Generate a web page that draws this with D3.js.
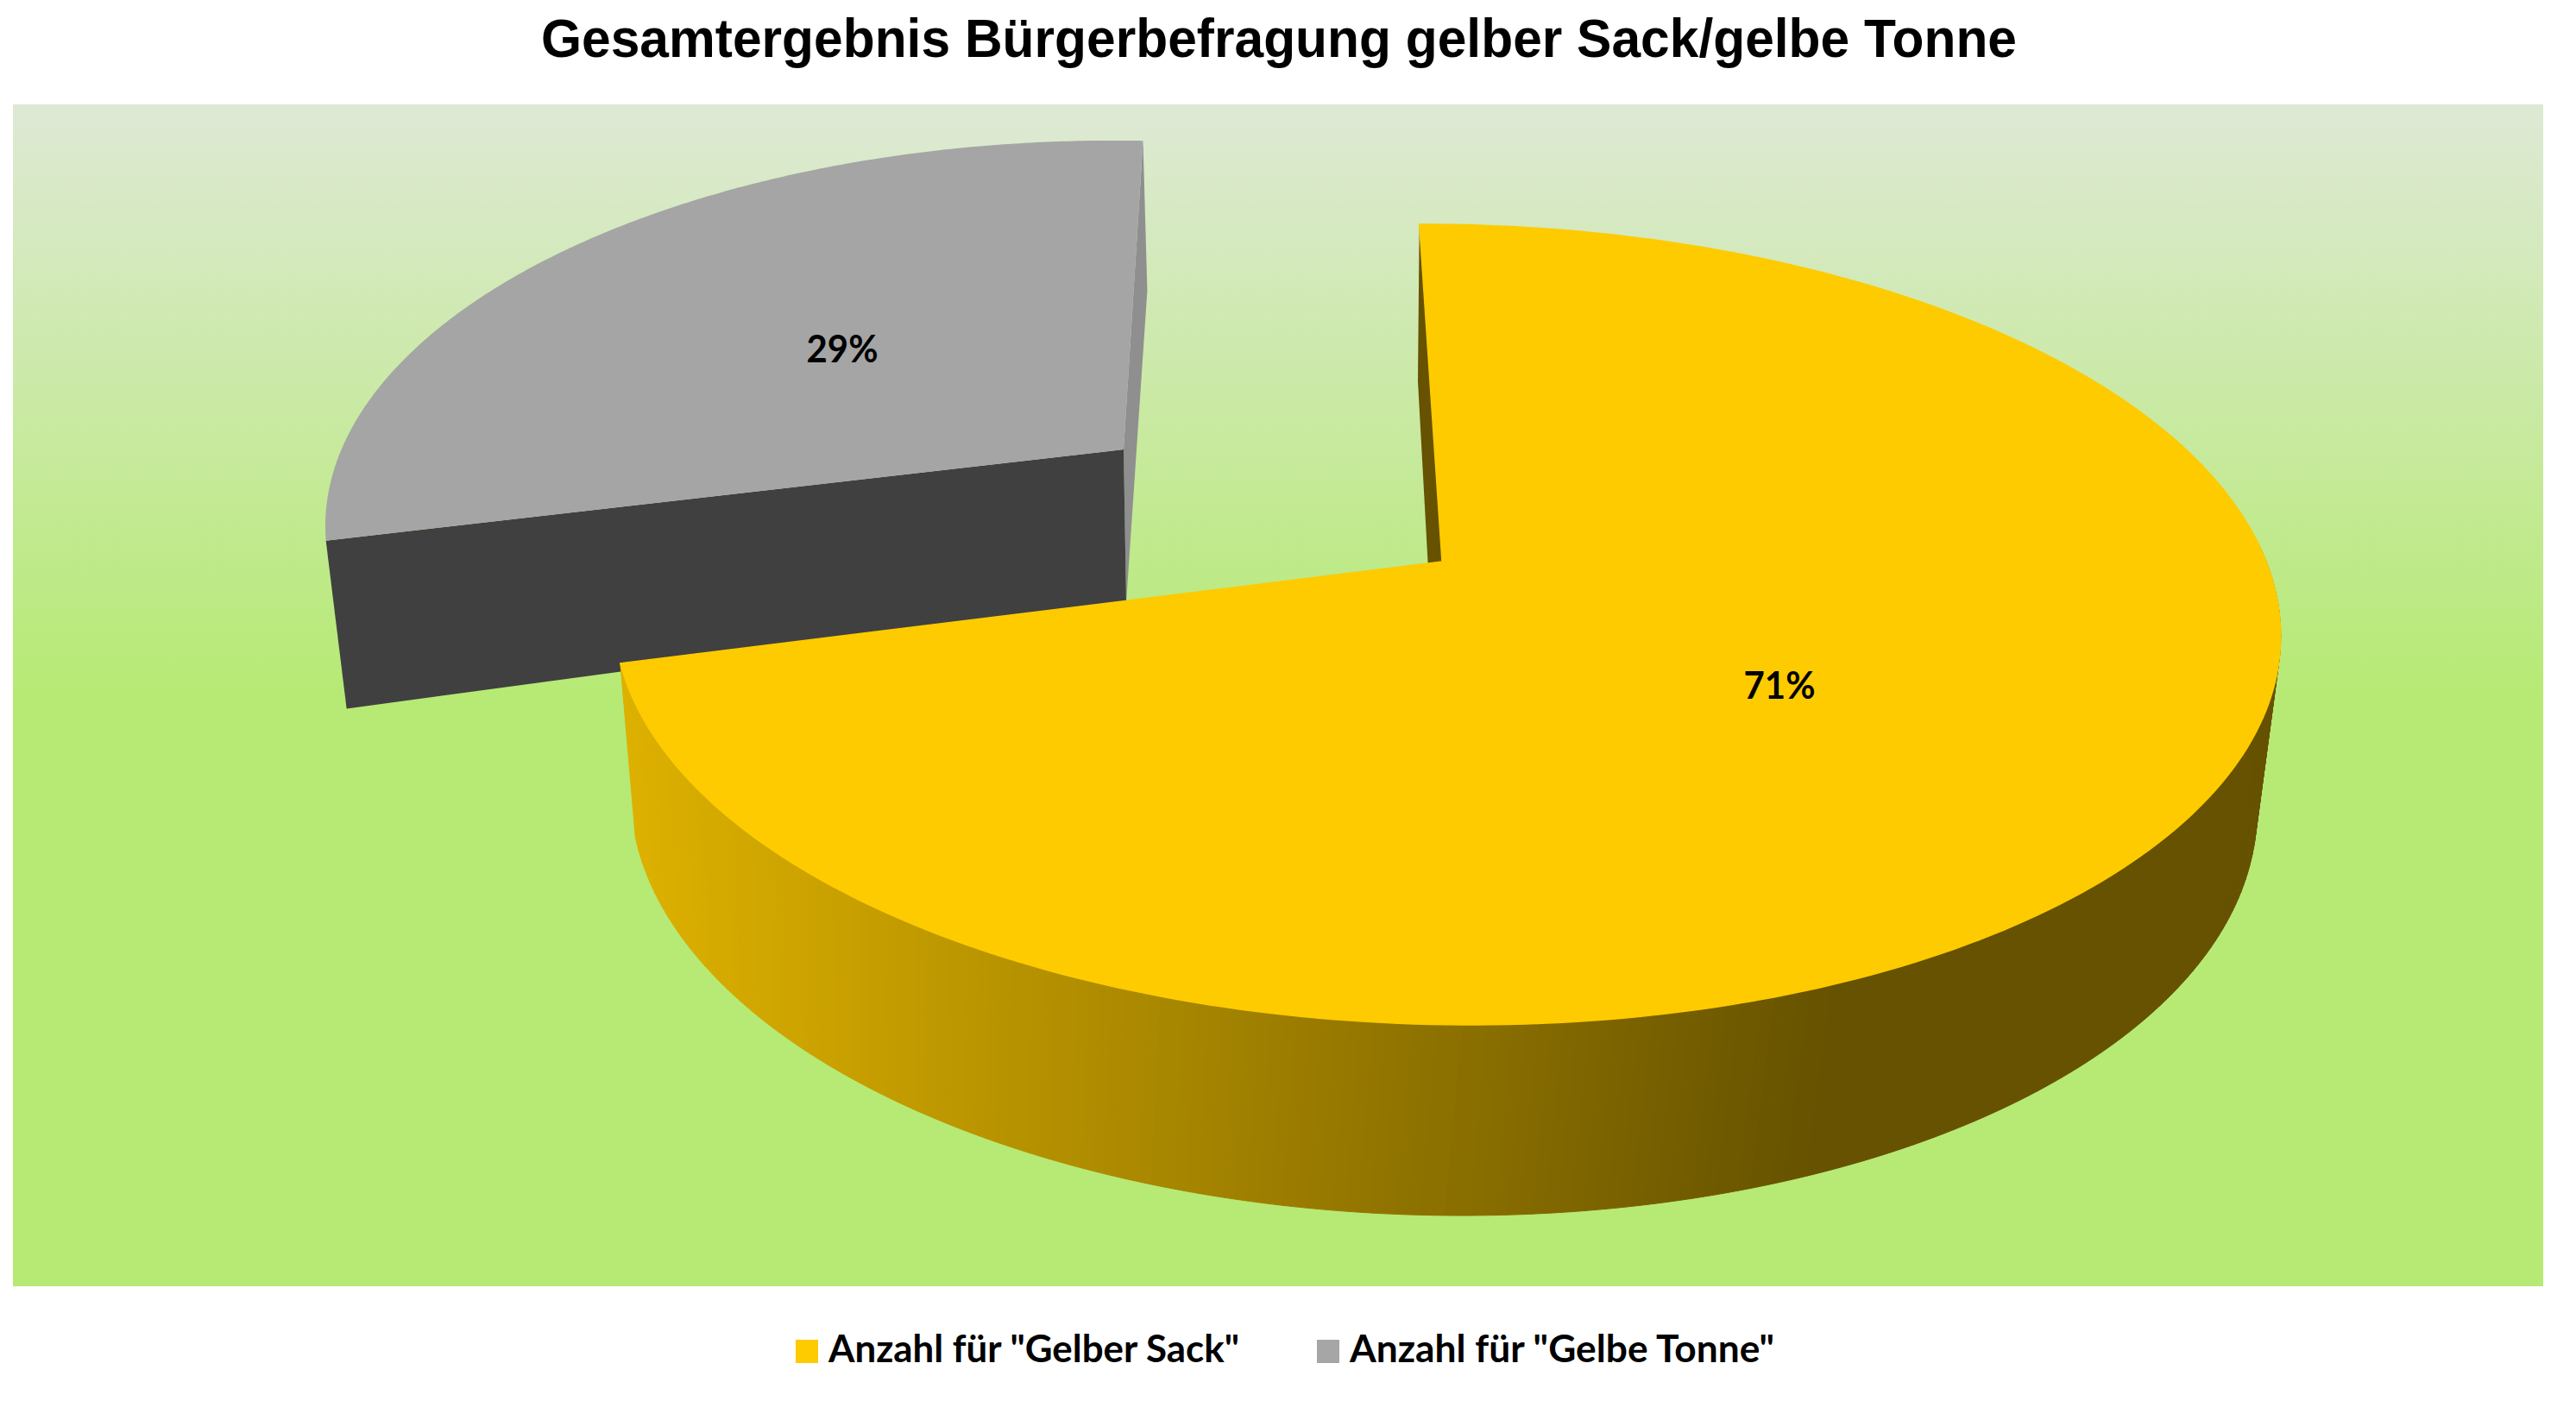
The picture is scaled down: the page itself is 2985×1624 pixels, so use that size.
<!DOCTYPE html>
<html><head><meta charset="utf-8">
<script src="https://cdn.jsdelivr.net/npm/d3@7/dist/d3.min.js"></script>
<style>html,body{margin:0;padding:0;background:#fff}svg{display:block}</style>
</head><body><svg id="c" width="2985" height="1624" viewBox="0 0 2985 1624"></svg>
<script>
const titleText = 'Gesamtergebnis Bürgerbefragung gelber Sack/gelbe Tonne';
const categories = ['Anzahl für "Gelber Sack"', 'Anzahl für "Gelbe Tonne"'];
const shares = [71, 29];
const colors = ['#fdcb00', '#a5a5a5'];

// perspective frames of each slice: top and bottom rim as sheared ellipses
const yellowFrame = {
  top: {cx:1677, cy:724, rx:965, ry:464, sx:38, sy:-5},
  bottom: {cx:1673, cy:929, rx:942, ry:480, sx:21, sy:0},
  apex: [1671,651], foot: [1655,660], backFoot: [1643,442],
  tRange: [-89.66, 175.07], label: [2062,810], labelW: 83
};
const grayFrame = {
  top: {cx:1270, cy:600, rx:893, ry:437, sx:0, sy:-10},
  bottom: {cx:1276, cy:794, rx:875, ry:457, sx:0, sy:-10},
  apex: [1302,521], foot: [1305,699],
  tRange: [177.8, 273.5], label: [976,420], labelW: 83
};

const svg = d3.select('#c');
const defs = svg.append('defs');
const grad = defs.append('linearGradient').attr('id','bg').attr('x1',0).attr('y1',0).attr('x2',0).attr('y2',1);
[[0,'#dee9d5'],[0.5,'#b6ea74'],[1,'#b6ea74']].forEach(s=>grad.append('stop').attr('offset',s[0]).attr('stop-color',s[1]));
svg.append('rect').attr('x',15).attr('y',121).attr('width',2932).attr('height',1370).attr('fill','url(#bg)');

const pieLayout = d3.pie().sort(null).value(d=>d);
const arcs = pieLayout(shares);
const rad = d=>d*Math.PI/180;
const rim = (e,t)=>[e.cx+e.rx*Math.cos(t)+e.sx*Math.sin(t), e.cy+e.ry*Math.sin(t)+e.sy*Math.cos(t)];
const line = d3.line();
const tScale = (a,f)=>d3.scaleLinear().domain([a.startAngle,a.endAngle]).range(f.tRange.map(rad));
const samples = (a,n)=>d3.range(n+1).map(i=>a.startAngle+(a.endAngle-a.startAngle)*i/n);
const face = (a,f)=>{
  const ts = tScale(a,f);
  return line(samples(a,240).map(v=>rim(f.top,ts(v))).concat([f.apex]))+'Z';
};

// gray slice
const g = svg.append('g');
{
  const a = arcs[1], f = grayFrame, ts = tScale(a,f);
  const s = a.startAngle, e = a.endAngle;
  g.append('path').attr('d',line([rim(f.top,ts(e)),rim(f.bottom,ts(e)),f.foot,f.apex])+'Z').attr('fill','#8f8f8f');
  g.append('path').attr('d',line([f.apex,rim(f.top,ts(s)),rim(f.bottom,ts(s)),f.foot])+'Z').attr('fill','#404040');
  g.append('path').attr('d',face(a,f)).attr('fill',colors[1]);
}
// yellow slice
{
  const a = arcs[0], f = yellowFrame, ts = tScale(a,f);
  const shade = d3.scaleLinear().domain([718,2095]).range(['#dfb200','#665200']).clamp(true);
  const vals = samples(a,300).filter(v=>ts(v)>rad(-12));
  g.selectAll('path.strip').data(d3.pairs(vals)).join('path').attr('class','strip')
    .attr('d',([u,v])=>line([rim(f.top,ts(u)),rim(f.top,ts(v)),rim(f.bottom,ts(v)),rim(f.bottom,ts(u))])+'Z')
    .attr('fill',([u,v])=>shade(rim(f.bottom,ts((u+v)/2))[0]))
    .attr('stroke',([u,v])=>shade(rim(f.bottom,ts((u+v)/2))[0])).attr('stroke-width',1);
  g.append('path').attr('d',line([rim(f.top,ts(a.startAngle)),f.backFoot,f.foot,f.apex])+'Z').attr('fill','#665200');
  g.append('path').attr('d',face(a,f)).attr('fill',colors[0]).attr('stroke',colors[0]).attr('stroke-width',1.5);
}

const total = d3.sum(shares);
const pct = d3.format('.0%');
[yellowFrame,grayFrame].forEach((f,i)=>{
  svg.append('text').attr('x',f.label[0]-f.labelW/2).attr('y',f.label[1])
    .attr('font-family','Lato').attr('font-weight',700).attr('font-size',44).attr('fill','#000')
    .attr('textLength',f.labelW).attr('lengthAdjust','spacingAndGlyphs')
    .text(pct(shares[i]/total));
});

svg.append('text').attr('x',627).attr('y',66).attr('font-family','Liberation Sans').attr('font-weight',700)
  .attr('font-size',63).attr('textLength',1710).attr('lengthAdjust','spacingAndGlyphs').attr('fill','#000').text(titleText);

const legendX = d3.scaleOrdinal().domain(categories).range([922,1526]);
const legendW = d3.scaleOrdinal().domain(categories).range([476,492]);
categories.forEach((c,i)=>{
  svg.append('rect').attr('x',legendX(c)).attr('y',1553).attr('width',26).attr('height',27).attr('fill',i?'#a6a6a6':colors[0]);
  svg.append('text').attr('x',legendX(c)+38).attr('y',1579).attr('font-family','Lato').attr('font-weight',700)
    .attr('font-size',44).attr('textLength',legendW(c)).attr('lengthAdjust','spacingAndGlyphs').attr('fill','#000').text(c);
});
</script></body></html>
